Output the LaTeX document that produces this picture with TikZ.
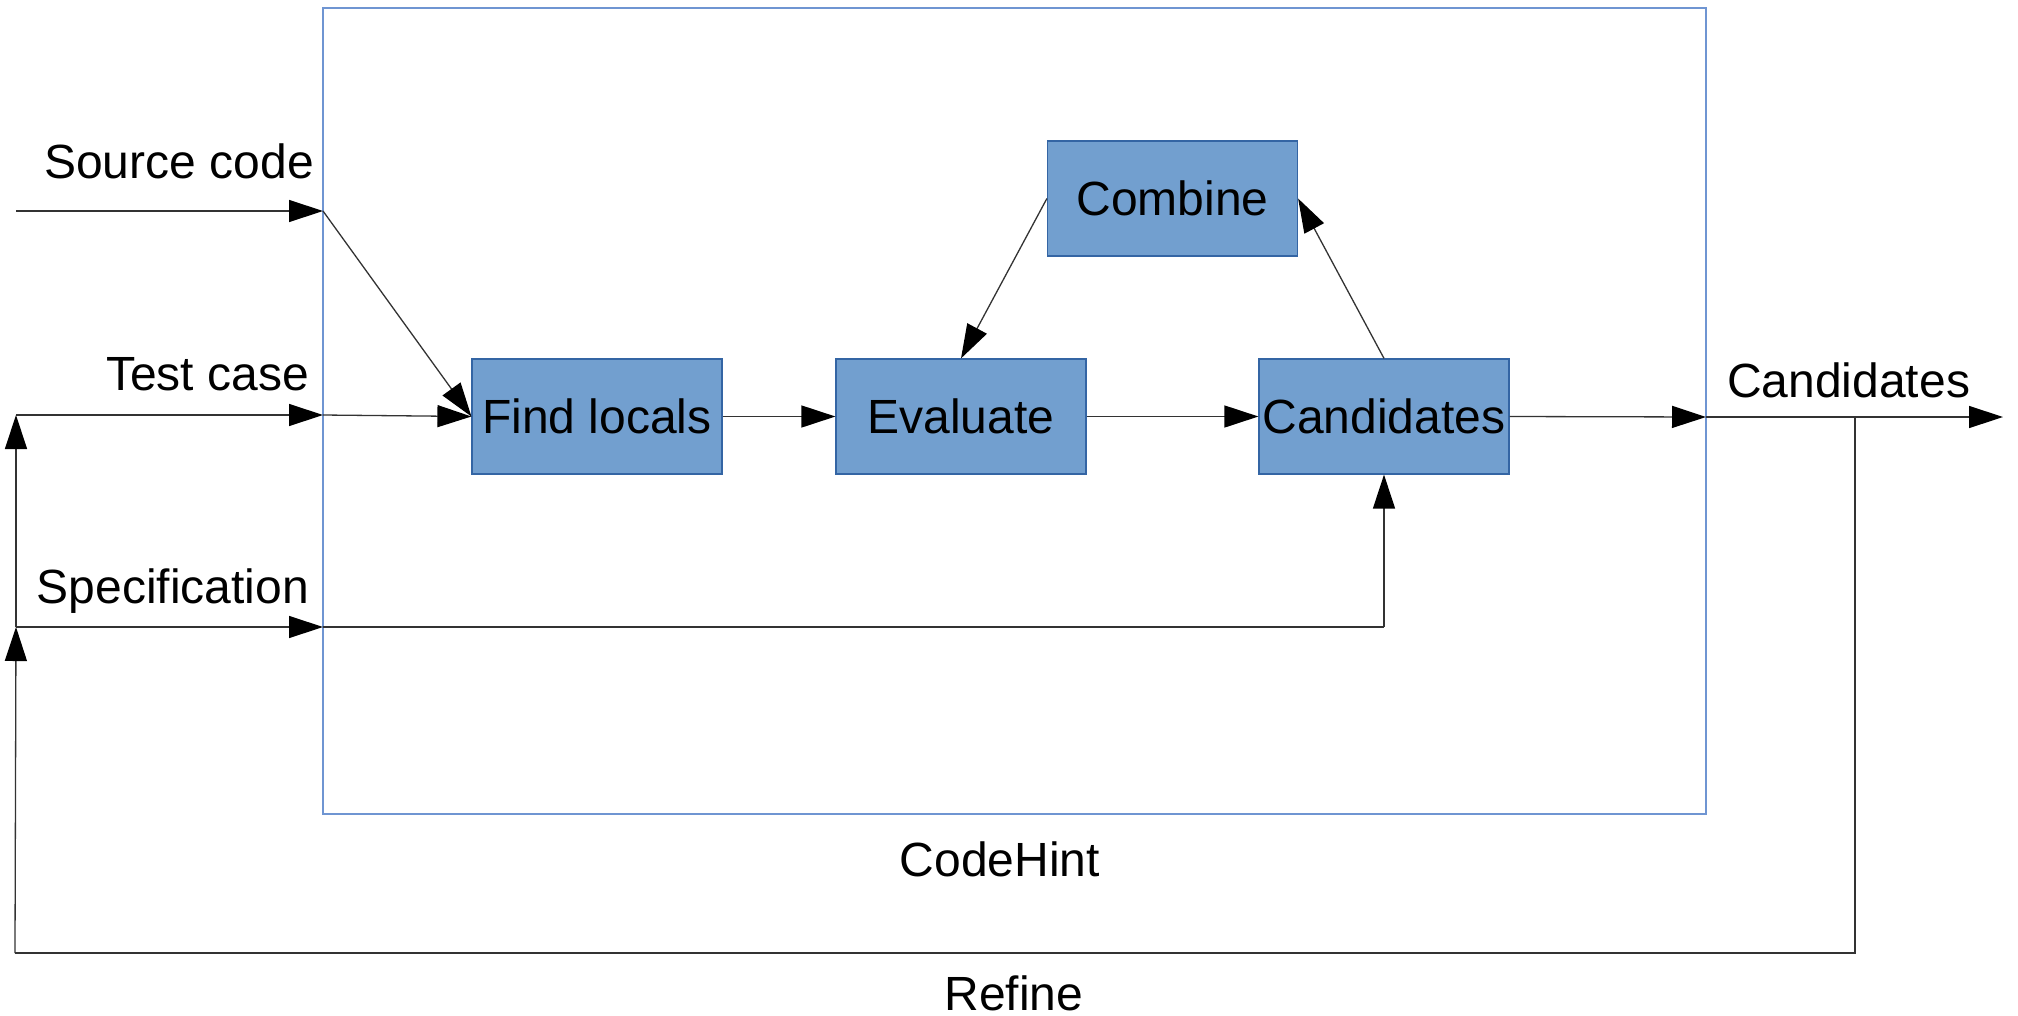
\documentclass[tikz,border=0pt]{standalone}
\usepackage{fontspec}
\setmainfont{Liberation Sans}
\usetikzlibrary{arrows.meta}
\definecolor{boxfill}{HTML}{729FCF}
\definecolor{boxline}{HTML}{3465A4}
\definecolor{frameline}{HTML}{6F95D2}
\begin{document}
\begin{tikzpicture}[x=1pt,y=-1pt,
  every node/.style={font=\fontsize{48}{57}\selectfont},
  stage/.style={draw=boxline,fill=boxfill,line width=1.2pt,minimum width=250pt,minimum height=115pt,inner sep=0pt},
  flow/.style={draw=black!80,line width=1.3pt,-{Triangle[length=34pt,width=22pt,color=black]}},
  wire/.style={draw=black!80,line width=1.3pt}]
\useasboundingbox (0,0) rectangle (2018,1015);

% enclosing CodeHint frame
\draw[frameline,line width=1.2pt] (323,8) rectangle (1706,814);
\node[anchor=base,inner sep=0pt] (hint) at (1000,876) {CodeHint};

% processing stages
\node[stage] (find) at (597,416.5) {Find locals};
\node[stage] (eval) at (961,416.5) {Evaluate};
\node[stage] (cand) at (1384,416.5) {Candidates};
\node[stage] (comb) at (1172.5,198.5) {Combine};

% input points on the frame
\coordinate (srcIn) at (323,211);
\coordinate (tstIn) at (323,415);
\coordinate (spcIn) at (323,627);
\coordinate (srcL) at (16,211);
\coordinate (tstL) at (16,415);
\coordinate (spcL) at (16,627);
\coordinate (outIn) at (1706,417);
\coordinate (outEnd) at (2003,417);
\coordinate (fbTop) at (1855,417);
\coordinate (fbR) at (1855,953);
\coordinate (fbL) at (15,953);
\coordinate (spcTurn) at (1384,627);

% input labels
\node[anchor=base east,inner sep=0pt] (lsrc) at (314,178) {Source code};
\node[anchor=base east,inner sep=0pt] (ltst) at (309,390) {Test case};
\node[anchor=base east,inner sep=0pt] (lspc) at (309,603) {Specification};
\node[anchor=base west,inner sep=0pt] (lout) at (1727,397) {Candidates};
\node[anchor=base,inner sep=0pt] (lref) at (1014,1010) {Refine};

% inputs
\draw[flow] (srcL) -- (srcIn);
\draw[flow] (tstL) -- (tstIn);
\draw[flow] (spcL) -- (spcIn);
\draw[flow] (srcIn) -- (find.west);
\draw[flow] (tstIn) -- (find.west);
\draw[wire] (spcIn) -- (spcTurn);
\draw[flow] (spcTurn) -- (cand.south);

% pipeline
\draw[flow] (find.east) -- (eval.west);
\draw[flow] (eval.east) -- (cand.west);
\draw[flow] (cand.north) -- (comb.east);
\draw[flow] (comb.west) -- (eval.north);
\draw[flow] (cand.east) -- (outIn);
\draw[flow] (outIn) -- (outEnd);

% refinement loop
\draw[wire] (fbTop) -- (fbR) -- (fbL);
\draw[flow] (fbL) -- (spcL);
\draw[flow] (spcL) -- (tstL);
\end{tikzpicture}
\end{document}
